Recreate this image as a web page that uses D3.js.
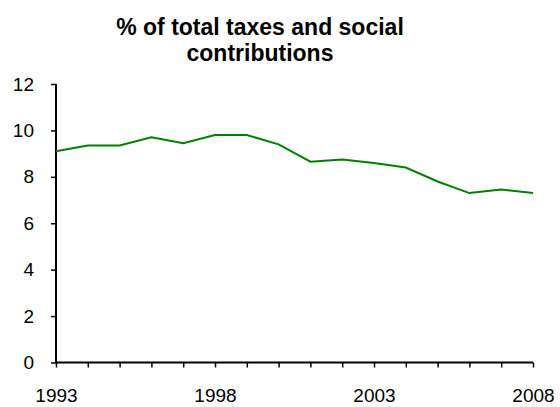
<!DOCTYPE html>
<html>
<head>
<meta charset="utf-8">
<script src="https://cdn.jsdelivr.net/npm/d3@7"></script>
<style>
  body { margin: 0; background: #fff; overflow: hidden; }
  text { font-family: "Liberation Sans", Arial, sans-serif; fill: #000; }
</style>
</head>
<body>
<div id="chart"></div>
<script>
// ============================================
// DATA
// ============================================
const years = d3.range(1993, 2009);
const shareValues = [9.1, 9.35, 9.35, 9.7, 9.45, 9.8, 9.8, 9.4, 8.65, 8.75, 8.6, 8.4, 7.8, 7.3, 7.45, 7.3];
const yTicks = [0, 2, 4, 6, 8, 10, 12];
const xLabels = [1993, 1998, 2003, 2008];
const titleLines = ["% of total taxes and social", "contributions"];

// ============================================
// SETUP
// ============================================
const width = 560;
const height = 407;

const svg = d3.select("#chart")
  .append("svg")
  .attr("width", width)
  .attr("height", height)
  .style("display", "block");

const x = d3.scaleLinear().domain([1993, 2008]).range([56, 533]);
const y = d3.scaleLinear().domain([0, 12]).range([362.5, 84]);

// title
svg.append("text")
  .attr("x", 260)
  .attr("y", 34.5)
  .attr("text-anchor", "middle")
  .style("font-size", "23px")
  .style("font-weight", "bold")
  .selectAll("tspan")
  .data(titleLines)
  .join("tspan")
  .attr("x", 260)
  .attr("dy", (d, i) => (i === 0 ? 0 : 26.5))
  .text((d) => d);

// y axis
const yAxis = svg.append("g")
  .attr("transform", `translate(${x(1993)},0)`)
  .call(d3.axisLeft(y).tickValues(yTicks).tickSize(5).tickPadding(17).tickFormat(d3.format("d")));

// x axis: tick per year, label every 5 years
const xAxis = svg.append("g")
  .attr("transform", `translate(0,${y(0)})`)
  .call(d3.axisBottom(x).tickValues(years).tickSize(5).tickPadding(21)
    .tickFormat((d) => (xLabels.includes(d) ? d : "")));

[yAxis, xAxis].forEach((ax) => {
  ax.select(".domain").attr("stroke", "#000").attr("stroke-width", 2);
  ax.selectAll(".tick line").attr("stroke", "#000").attr("stroke-width", 1.5);
  ax.selectAll(".tick text")
    .style("font-family", "'Liberation Sans', Arial, sans-serif")
    .style("font-size", "19px")
    .attr("fill", "#000");
});

// no end caps on the domain paths
yAxis.select(".domain").attr("d", `M0,${y(12)}V${y(0)}`);
xAxis.select(".domain").attr("d", `M${x(1993)},0H${x(2008)}`);

// line
const line = d3.line()
  .x((d, i) => x(years[i]))
  .y((d) => y(d));

svg.append("path")
  .datum(shareValues)
  .attr("fill", "none")
  .attr("stroke", "#008000")
  .attr("stroke-width", 2)
  .attr("d", line);
</script>
</body>
</html>
